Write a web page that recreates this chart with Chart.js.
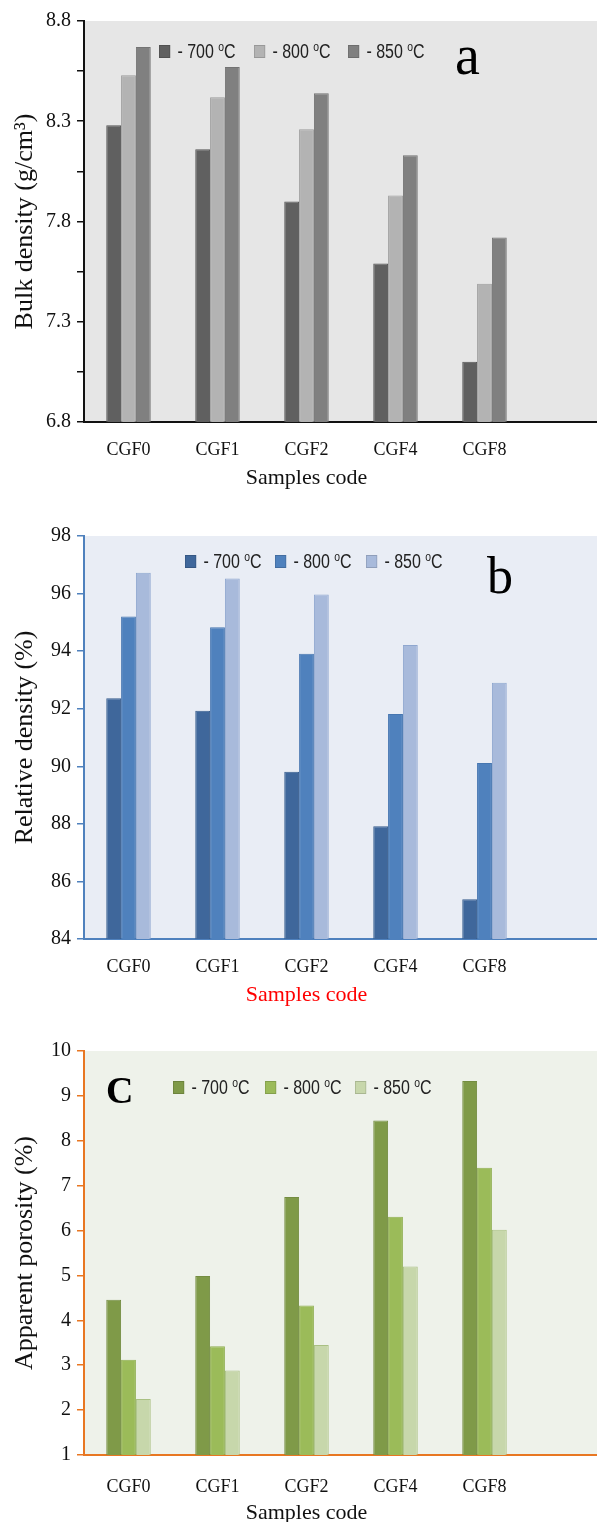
<!DOCTYPE html>
<html>
<head>
<meta charset="utf-8">
<script src="https://cdn.jsdelivr.net/npm/chart.js@4.4.1/dist/chart.umd.min.js"></script>
<style>
  html, body { margin: 0; padding: 0; background: #fff; }
  body { width: 597px; height: 1522px; position: relative; overflow: hidden; }
  .panel { position: absolute; left: 0; width: 597px; }
  .leg { position: absolute; font-family: "Liberation Sans", Arial, sans-serif; font-size: 20px; color: #222; white-space: nowrap; line-height: 1; transform: scaleX(0.8); transform-origin: 0 50%; }
  .leg i { display: inline-block; width: 14px; height: 13px; margin-right: 9px; vertical-align: 0px; box-sizing: border-box; border: 1px solid rgba(0,0,0,0.15); }
  .leg sup { font-size: 13px; vertical-align: 7px; line-height: 0; }
</style>
</head>
<body>
<div class="panel" style="top:0;height:505px"><canvas id="chartA" width="597" height="505"></canvas></div>
<div class="panel" style="top:505px;height:510px"><canvas id="chartB" width="597" height="510"></canvas></div>
<div class="panel" style="top:1015px;height:520px"><canvas id="chartC" width="597" height="520"></canvas></div>
<div id="legends"></div>
<script>
// --- data ---
const categories = ['CGF0', 'CGF1', 'CGF2', 'CGF4', 'CGF8'];
const temps = [700, 800, 850];

const bulk700 = [8.28, 8.16, 7.90, 7.59, 7.10];
const bulk800 = [8.53, 8.42, 8.26, 7.93, 7.49];
const bulk850 = [8.67, 8.57, 8.44, 8.13, 7.72];
const bulkTicks = [6.8, 7.05, 7.3, 7.55, 7.8, 8.05, 8.3, 8.55, 8.8];
const bulkTickLabels = [6.8, 7.3, 7.8, 8.3, 8.8];

const rel700 = [92.36, 91.93, 89.81, 87.92, 85.38];
const rel800 = [95.20, 94.83, 93.91, 91.82, 90.11];
const rel850 = [96.72, 96.52, 95.97, 94.21, 92.90];
const relTicks = [84, 86, 88, 90, 92, 94, 96, 98];

const por700 = [4.46, 4.99, 6.75, 8.45, 9.33];
const por800 = [3.12, 3.42, 4.33, 6.31, 7.40];
const por850 = [2.25, 2.88, 3.45, 5.20, 6.02];
const porTicks = [1, 2, 3, 4, 5, 6, 7, 8, 9, 10];

const serif = '"Liberation Serif", "Times New Roman", serif';

// fond du graphique prolongé jusqu'au bord droit + lettre du panneau
const panelDeco = {
  id: 'panelDeco',
  beforeDraw(chart, args, o) {
    const { ctx, chartArea: a } = chart;
    ctx.save();
    ctx.fillStyle = o.bg;
    ctx.fillRect(a.left, a.top, chart.width - a.left, a.bottom - a.top);
    ctx.restore();
  },
  afterDraw(chart, args, o) {
    const { ctx, chartArea: a } = chart;
    ctx.save();
    ctx.strokeStyle = o.axis;
    ctx.lineWidth = 2;
    ctx.beginPath();
    ctx.moveTo(a.right - 1, a.bottom);
    ctx.lineTo(chart.width, a.bottom);
    ctx.stroke();
    ctx.fillStyle = '#000';
    ctx.font = o.letterFont;
    ctx.textBaseline = 'alphabetic';
    ctx.fillText(o.letter, o.lx, o.ly);
    ctx.restore();
  }
};

function makeChart(id, cfg) {
  const ds = cfg.series.map((vals, i) => ({
    label: temps[i] + ' °C',
    data: vals,
    backgroundColor: cfg.colors[i],
    borderColor: cfg.borders[i],
    borderWidth: 1,
    categoryPercentage: 0.5,
    barPercentage: 1.0
  }));
  return new Chart(document.getElementById(id), {
    type: 'bar',
    data: { labels: categories, datasets: ds },
    plugins: [panelDeco],
    options: {
      responsive: false,
      animation: false,
      layout: { padding: { top: cfg.top, right: 68, left: 0, bottom: 0 } },
      plugins: {
        legend: { display: false },
        tooltip: { enabled: false },
        panelDeco: { bg: cfg.bg, axis: cfg.axis, letter: cfg.letter, lx: cfg.lx, ly: cfg.ly, letterFont: cfg.letterFont }
      },
      scales: {
        x: {
          z: 1,
          grid: { display: false },
          border: { display: true, color: cfg.axis, width: 2 },
          ticks: { color: '#111', font: { family: serif, size: 18 }, padding: cfg.xpad },
          title: { display: true, text: 'Samples code', color: cfg.xTitleColor, font: { family: serif, size: 22 }, padding: { top: 0, bottom: cfg.tb } },
          afterFit: s => { s.height = cfg.xh; }
        },
        y: {
          z: 1,
          min: cfg.min, max: cfg.max,
          afterBuildTicks: s => { s.ticks = cfg.ticks.map(v => ({ value: v })); },
          grid: { drawOnChartArea: false, drawTicks: true, tickLength: 7, color: cfg.axis, lineWidth: 1.5 },
          border: { display: true, color: cfg.axis, width: 2 },
          ticks: {
            color: '#111', font: { family: serif, size: 20 }, padding: 6,
            callback: v => (cfg.labels.some(l => Math.abs(l - v) < 1e-6) ? String(cfg.fmt(v)) : '')
          },
          title: { display: true, text: cfg.yTitle, color: '#111', font: { family: serif, size: 26 }, padding: { top: 10, bottom: 0 } },
          afterFit: s => { s.width = 84; }
        }
      }
    }
  });
}

makeChart('chartA', {
  series: [bulk700, bulk800, bulk850],
  colors: ['#606060', '#b3b3b3', '#808080'],
  borders: ['#555555', '#9d9d9d', '#737373'],
  bg: '#e6e6e6', axis: '#111111', xTitleColor: '#111',
  min: 6.8, max: 8.8, ticks: bulkTicks, labels: bulkTickLabels, fmt: v => v.toFixed(1),
  yTitle: 'Bulk density (g/cm³)',
  top: 21, xh: 83, xpad: 9, tb: 14,
  letter: 'a', lx: 455, ly: 74, letterFont: '56px ' + serif
});

makeChart('chartB', {
  series: [rel700, rel800, rel850],
  colors: ['#3f679b', '#4f81bd', '#a8badb'],
  borders: ['#375d8d', '#4676b0', '#8fa7cf'],
  bg: '#e9edf5', axis: '#4f81bd', xTitleColor: '#ff0000',
  min: 84, max: 98, ticks: relTicks, labels: relTicks, fmt: v => v,
  yTitle: 'Relative density (%)',
  top: 31, xh: 76, xpad: 9, tb: 7,
  letter: 'b', lx: 487, ly: 88, letterFont: '52px ' + serif
});

makeChart('chartC', {
  series: [por700, por800, por850],
  colors: ['#7f9a48', '#9bbb59', '#c7d7ab'],
  borders: ['#748d41', '#8fae50', '#a9c083'],
  bg: '#eef2ea', axis: '#e87722', xTitleColor: '#111',
  min: 1, max: 10, ticks: porTicks, labels: porTicks, fmt: v => v,
  yTitle: 'Apparent porosity (%)',
  top: 36, xh: 80, xpad: 13, tb: 9,
  letter: 'C', lx: 106, ly: 88, letterFont: 'bold 38px ' + serif
});

// légendes à l'intérieur des graphiques
const legendSpots = [
  { top: 41, xs: [159, 254, 348], colors: ['#606060', '#b3b3b3', '#808080'] },
  { top: 551, xs: [185, 275, 366], colors: ['#3f679b', '#4f81bd', '#a8badb'] },
  { top: 1077, xs: [173, 265, 355], colors: ['#7f9a48', '#9bbb59', '#c7d7ab'] }
];
const legWrap = document.getElementById('legends');
legendSpots.forEach(spot => {
  temps.forEach((t, i) => {
    const d = document.createElement('div');
    d.className = 'leg';
    d.style.left = spot.xs[i] + 'px';
    d.style.top = spot.top + 'px';
    d.innerHTML = `<i style="background:${spot.colors[i]}"></i>- ${t} <sup>o</sup>C`;
    legWrap.appendChild(d);
  });
});
</script>
</body>
</html>
